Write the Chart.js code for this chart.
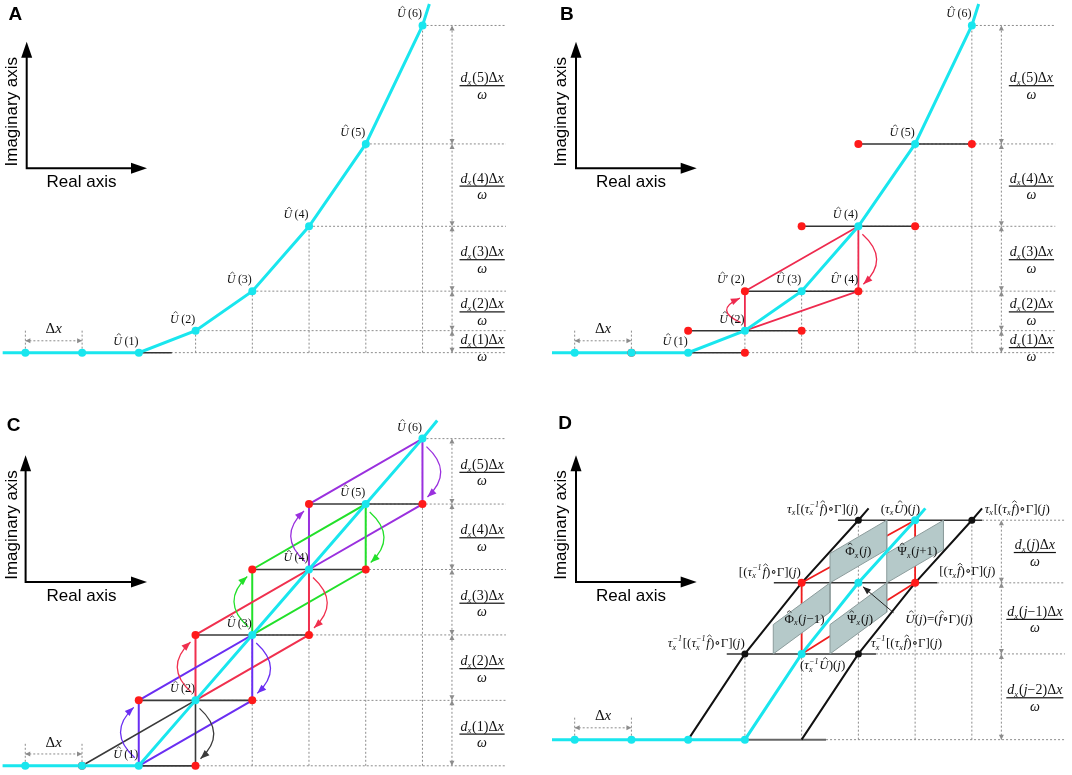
<!DOCTYPE html>
<html>
<head>
<meta charset="utf-8">
<title>Real / imaginary axis construction, panels A-D</title>
<script src="https://cdn.jsdelivr.net/npm/chart.js@4.4.1/dist/chart.umd.min.js"></script>
<style>
  html, body { margin: 0; padding: 0; background: #fff; }
  .panel { position: absolute; }
</style>
</head>
<body>
<div class="panel" style="left:0;top:0;width:536px;height:387px"><canvas id="chartA"></canvas></div>
<div class="panel" style="left:536px;top:0;width:536px;height:387px"><canvas id="chartB"></canvas></div>
<div class="panel" style="left:0;top:387px;width:536px;height:388px"><canvas id="chartC"></canvas></div>
<div class="panel" style="left:536px;top:387px;width:536px;height:388px"><canvas id="chartD"></canvas></div>
<script>
// real part of each sample, counted in steps of dx
const realPos = [0, 1, 2, 3, 4, 5, 6, 7];
// imaginary part of each sample (same unit as dx)
const imagCurve = [0, 0, 0, 0.39, 1.09, 2.24, 3.70, 5.80];   // A and B
const imagLinear = [0, 0, 0, 1.16, 2.32, 3.48, 4.64, 5.80];  // C
const sampleNames = ['', '', '1', '2', '3', '4', '5', '6'];
const stepNames = ['1', '2', '3', '4', '5'];
// the curve keeps going past the first and last sample
const curveEntry = [-0.4, 0];
const curveExitAB = [7.12, 6.18];
const curveExitC = [7.26, 6.12];

// panel D
const realD = [0, 1, 2, 3, 4, 5, 6];
const imagD = [0, 0, 0, 0, 1.52, 2.78, 3.89];
const curveExitD = [6.18, 4.10];
const levelsD = imagD.slice(3);
const stepNamesD = ['j\u22122', 'j\u22121', 'j'];
const railsD = [[3, 4.43], [2.68, 5.31], [3.51, 6.39], [4.64, 7.18]];  // horizontal rails, one per level
const plumbD = [[3, 1], [4, 2], [5, 3], [6, 3], [7, 3]];               // x, level index of dotted drops
const cellsD = [[3.5, 1], [4.5, 1], [4.5, 2], [5.5, 2]];               // left x, lower level of shaded cells
const CELL_H = 0.52;

const UNIT = 57.6;          // pixels per dx
const DIM_X = 7.52;
const DX_TICK = 0.41, DX_BAR = 0.21;
const SERIF = '"Liberation Serif", "Times New Roman", "DejaVu Serif", serif';
const SANS = '"Liberation Sans", Arial, sans-serif';
const CYAN = '#19e6ee', DOT_RED = '#ff1a1a', GRID = '#8c8c8c', INK = '#333333';
const RED_B = '#ee2a4e';
const cellColorsC = ['#3a3a3a', '#6a2ef2', '#f0304e', '#22e02a', '#9a30de'];

const frames = {
  chartA: { ox: 21.7, oy: 356, w: 536, h: 387 },
  chartB: { ox: 35.2, oy: 356, w: 536, h: 387 },
  chartC: { ox: 21.6, oy: 382.7, w: 536, h: 388 },
  chartD: { ox: 35.2, oy: 356, w: 536, h: 388 }
};

function pts(list) { return list.map(([x, y]) => ({ x, y })); }
function segs(list) {
  const out = [];
  list.forEach((s, i) => {
    if (i) out.push({ x: NaN, y: NaN });
    s.forEach(([x, y]) => out.push({ x, y }));
  });
  return out;
}
function samples(xs, ys, from, to) {
  const o = [];
  for (let i = from; i <= to; i++) o.push([xs[i], ys[i]]);
  return o;
}
function shift(list, d) { return list.map(([x, y]) => [x + d, y]); }
function cell(xs, ys, k) {
  return [[xs[k], ys[k]], [xs[k], ys[k + 1]], [xs[k + 2], ys[k + 2]], [xs[k + 2], ys[k + 1]], [xs[k], ys[k]]];
}
function rails(xs, ys) {
  return [1, 2, 3, 4, 5].map(k => [[xs[k], ys[k + 1]], [xs[k + 2], ys[k + 1]]]);
}
function sideDots(xs, ys) {
  const o = [];
  [1, 2, 3, 4, 5].forEach(k => { o.push([xs[k], ys[k + 1]], [xs[k + 2], ys[k + 1]]); });
  return o;
}
function dxMarker(xs) {
  return [[[xs[0], 0], [xs[0], DX_TICK]], [[xs[1], 0], [xs[1], DX_TICK]], [[xs[0], DX_BAR], [xs[1], DX_BAR]]];
}
function gridSegments(xs, ys, xEnd) {
  const s = [];
  for (let k = 3; k < xs.length; k++) {
    s.push([[xs[k], 0], [xs[k], ys[k]]], [[xs[k], ys[k]], [xEnd, ys[k]]]);
  }
  s.push([[xs[2], 0], [xEnd, 0]], [[DIM_X, 0], [DIM_X, ys[ys.length - 1]]]);
  return s.concat(dxMarker(xs));
}

function lineSet(data, color, width, order, dash) {
  return { data, showLine: true, borderColor: color, borderWidth: width, borderDash: dash || [],
           pointRadius: 0, pointHoverRadius: 0, fill: false, order, clip: false };
}
function dotSet(data, color, r, order) {
  return { data, showLine: false, pointRadius: r, pointHoverRadius: r, pointBackgroundColor: color,
           pointBorderColor: color, pointBorderWidth: 0, order, clip: false };
}
function shapeSet(data, fillColor, edgeColor, order) {
  return { data, showLine: true, fill: 'shape', backgroundColor: fillColor, borderColor: edgeColor,
           borderWidth: 1, pointRadius: 0, order };
}

// ---------- text helpers ----------
function R(t, hat) { return { t, hat }; }
function I(t, hat) { return { t, it: true, hat }; }
function SB(t, sup) { return { t, it: true, sub: true, sup }; }
function partFont(ctx, p, size) {
  const s = p.sub ? size * 0.62 : size;
  ctx.font = (p.it ? 'italic ' : '') + s.toFixed(1) + 'px ' + SERIF;
}
function partWidth(ctx, p, size) {
  partFont(ctx, p, size);
  let w = ctx.measureText(p.t).width;
  if (p.sup) w = Math.max(w, ctx.measureText(p.sup).width);
  return w + (p.sub ? size * 0.06 : 0);
}
function drawParts(ctx, parts, x, y, size, align) {
  let total = 0;
  parts.forEach(p => { total += partWidth(ctx, p, size); });
  let cx = align === 'left' ? x : x - total / 2;
  ctx.textAlign = 'left';
  ctx.textBaseline = 'alphabetic';
  parts.forEach(p => {
    const w = partWidth(ctx, p, size);
    partFont(ctx, p, size);
    if (p.sub) {
      ctx.fillText(p.t, cx, y + size * 0.2);
      if (p.sup) ctx.fillText(p.sup, cx, y - size * 0.42);
    } else {
      ctx.fillText(p.t, cx, y);
    }
    if (p.hat) {
      const mx = cx + w / 2 + (p.it ? size * 0.1 : 0);
      const hb = y - size * 0.78, ht = y - size * 0.92, hw = size * 0.17;
      ctx.beginPath();
      ctx.moveTo(mx - hw, hb); ctx.lineTo(mx, ht); ctx.lineTo(mx + hw, hb);
      ctx.lineWidth = size * 0.06;
      ctx.strokeStyle = ctx.fillStyle;
      ctx.stroke();
    }
    cx += w;
  });
  return total;
}
function head(ctx, x, y, ang, len, half, color) {
  const bx = x - len * Math.cos(ang), by = y - len * Math.sin(ang);
  const nx = -Math.sin(ang) * half, ny = Math.cos(ang) * half;
  ctx.fillStyle = color;
  ctx.beginPath();
  ctx.moveTo(x, y); ctx.lineTo(bx + nx, by + ny); ctx.lineTo(bx - nx, by - ny);
  ctx.closePath();
  ctx.fill();
}
function curvedArrow(ctx, x0, y0, x1, y1, side, color) {
  const dir = Math.sign(y1 - y0) || 1;
  const sx = x0 + side * 4, sy = y0 + dir * 8;
  const ex = x1 + side * 5, ey = y1 - dir * 7;
  const cx = x0 + side * 32, cy = (sy + ey) / 2;
  ctx.strokeStyle = color;
  ctx.lineWidth = 1.3;
  ctx.beginPath();
  ctx.moveTo(sx, sy);
  ctx.quadraticCurveTo(cx, cy, ex, ey);
  ctx.stroke();
  head(ctx, ex, ey, Math.atan2(ey - cy, ex - cx), 9, 3.5, color);
}
function drawIcon(ctx, ic) {
  ctx.strokeStyle = '#000';
  ctx.lineWidth = 2;
  ctx.beginPath();
  ctx.moveTo(ic.x, ic.top + 10); ctx.lineTo(ic.x, ic.bottom); ctx.lineTo(ic.right - 10, ic.bottom);
  ctx.stroke();
  head(ctx, ic.x, ic.top, -Math.PI / 2, 16, 5.5, '#000');
  head(ctx, ic.right, ic.bottom, 0, 16, 5.5, '#000');
  ctx.fillStyle = '#000';
  ctx.font = '17px ' + SANS;
  ctx.textAlign = 'center';
  ctx.textBaseline = 'middle';
  ctx.save();
  ctx.translate(ic.imag[0], ic.imag[1]);
  ctx.rotate(-Math.PI / 2);
  ctx.fillText('Imaginary axis', 0, 0);
  ctx.restore();
  ctx.fillText('Real axis', ic.real[0], ic.real[1]);
}

function hatU(name, prime) {
  return [I('U', 1)].concat(prime ? [R('\u2032')] : [], [R('\u2009(' + name + ')')]);
}
function sampleLabels(xs, ys) {
  const o = [];
  for (let k = 2; k < xs.length; k++) o.push({ at: [xs[k], ys[k]], off: [-13, -12], parts: hatU(sampleNames[k]), size: 12 });
  o.push({ at: [(xs[0] + xs[1]) / 2, DX_TICK + 0.02], parts: [R('\u0394'), I('x')], size: 15 });
  return o;
}
function sideArrows(xs, ys, ks, colors) {
  const o = [];
  ks.forEach((k, i) => {
    if (k > 1) o.push({ from: [xs[k], ys[k]], to: [xs[k], ys[k + 1]], side: -1, color: colors[i] });
    o.push({ from: [xs[k + 2], ys[k + 2]], to: [xs[k + 2], ys[k + 1]], side: 1, color: colors[i] });
  });
  return o;
}

const labelsD = [
  { at: [4.37, 4.10], parts: [I('\u03c4'), SB('x'), R('[('), I('\u03c4'), SB('x', '\u22121'), I('f', 1), R(')\u2218\u0393]('), I('j'), R(')')] },
  { at: [5.74, 4.10], parts: [R('('), I('\u03c4'), SB('x'), I('U', 1), R(')('), I('j'), R(')')] },
  { at: [7.80, 4.10], parts: [I('\u03c4'), SB('x'), R('[('), I('\u03c4'), SB('x'), I('f', 1), R(')\u2218\u0393]('), I('j'), R(')')] },
  { at: [3.44, 2.98], parts: [R('[('), I('\u03c4'), SB('x', '\u22121'), I('f', 1), R(')\u2218\u0393]('), I('j'), R(')')] },
  { at: [6.92, 2.99], parts: [R('[('), I('\u03c4'), SB('x'), I('f', 1), R(')\u2218\u0393]('), I('j'), R(')')] },
  { at: [5.00, 3.35], parts: [R('\u03a6', 1), SB('x'), R('('), I('j'), R(')')] },
  { at: [6.04, 3.35], parts: [R('\u03a8', 1), SB('x'), R('('), I('j'), R('+1)')] },
  { at: [4.05, 2.15], parts: [R('\u03a6', 1), SB('x'), R('('), I('j'), R('\u22121)')] },
  { at: [5.03, 2.15], parts: [R('\u03a8', 1), SB('x'), R('('), I('j'), R(')')] },
  { at: [6.42, 2.15], parts: [I('U', 1), R('('), I('j'), R(')=('), I('f', 1), R('\u2218\u0393)('), I('j'), R(')')] },
  { at: [2.32, 1.72], parts: [I('\u03c4'), SB('x', '\u22121'), R('[('), I('\u03c4'), SB('x', '\u22121'), I('f', 1), R(')\u2218\u0393]('), I('j'), R(')')] },
  { at: [5.85, 1.72], parts: [I('\u03c4'), SB('x', '\u22121'), R('[('), I('\u03c4'), SB('x'), I('f', 1), R(')\u2218\u0393]('), I('j'), R(')')] },
  { at: [4.37, 1.32], parts: [R('('), I('\u03c4'), SB('x', '\u22121'), I('U', 1), R(')('), I('j'), R(')')] }
].map(l => Object.assign({ size: 13 }, l));
labelsD.push({ at: [0.5, DX_TICK + 0.02], parts: [R('\u0394'), I('x')], size: 15 });

const notes = {
  chartA: {
    letter: 'A', letterAt: [15.4, 15],
    icon: { x: 26.7, top: 41.7, bottom: 168.3, right: 147, imag: [12, 111.7], real: [81.5, 182.7] },
    levels: imagCurve.slice(2), fracNames: stepNames, fracX: 8.05,
    labels: sampleLabels(realPos, imagCurve), arrows: []
  },
  chartB: {
    letter: 'B', letterAt: [30.8, 15],
    icon: { x: 40, top: 41.7, bottom: 168.3, right: 160.7, imag: [25.6, 111.7], real: [95, 182.7] },
    levels: imagCurve.slice(2), fracNames: stepNames, fracX: 8.05,
    labels: sampleLabels(realPos, imagCurve).concat([
      { at: [realPos[3], imagCurve[4]], off: [-14, -12], parts: hatU('2', true), size: 12 },
      { at: [realPos[5], imagCurve[4]], off: [-14, -12], parts: hatU('4', true), size: 12 }
    ]),
    arrows: sideArrows(realPos, imagCurve, [3], [RED_B])
  },
  chartC: {
    letter: 'C', letterAt: [13.7, 38.3],
    icon: { x: 25.6, top: 68.3, bottom: 195, right: 147, imag: [12, 138], real: [81.5, 209.3] },
    levels: imagLinear.slice(2), fracNames: stepNames, fracX: 8.05,
    labels: sampleLabels(realPos, imagLinear),
    arrows: sideArrows(realPos, imagLinear, [1, 2, 3, 4, 5], cellColorsC)
  },
  chartD: {
    letter: 'D', letterAt: [29, 37],
    icon: { x: 40, top: 68.3, bottom: 195, right: 160.7, imag: [25.6, 138], real: [95, 209.3] },
    levels: levelsD, fracNames: stepNamesD, fracX: 8.11,
    labels: labelsD, arrows: [],
    pointer: { from: [5.62, 2.25], to: [realD[5], imagD[5]] }
  }
};

const annotate = {
  id: 'annotate',
  afterDatasetsDraw(chart) {
    const n = notes[chart.canvas.id];
    if (!n) return;
    const ctx = chart.ctx;
    const X = v => chart.scales.x.getPixelForValue(v);
    const Y = v => chart.scales.y.getPixelForValue(v);
    ctx.save();
    n.arrows.forEach(a => curvedArrow(ctx, X(a.from[0]), Y(a.from[1]), X(a.to[0]), Y(a.to[1]), a.side, a.color));

    // dx marker heads
    head(ctx, X(0), Y(DX_BAR), Math.PI, 5, 2.5, GRID);
    head(ctx, X(1), Y(DX_BAR), 0, 5, 2.5, GRID);

    // dimension heads + fractions on the right
    for (let i = 0; i + 1 < n.levels.length; i++) {
      const yLo = Y(n.levels[i]), yHi = Y(n.levels[i + 1]);
      head(ctx, X(DIM_X), yHi, -Math.PI / 2, 5, 2.5, GRID);
      head(ctx, X(DIM_X), yLo, Math.PI / 2, 5, 2.5, GRID);
      const barY = (yLo - yHi) < 30 ? yLo - 5 : (yLo + yHi) / 2 + 1;
      const cx = X(n.fracX);
      const name = n.fracNames[i];
      const num = [I('d'), SB('x'), R('(')].concat(
        name.length > 1 ? [I('j'), R(name.slice(1) + ')')] : (name === 'j' ? [I('j'), R(')')] : [R(name + ')')]),
        [R('\u0394'), I('x')]);
      ctx.fillStyle = '#111';
      const w = drawParts(ctx, num, cx, barY - 3.5, 14, 'center');
      ctx.fillStyle = '#111';
      ctx.fillRect(cx - w / 2 - 1, barY - 0.6, w + 2, 1.2);
      drawParts(ctx, [I('\u03c9')], cx, barY + 13, 14, 'center');
    }

    // math labels
    n.labels.forEach(l => {
      const off = l.off || [0, 0];
      ctx.fillStyle = '#111';
      drawParts(ctx, l.parts, X(l.at[0]) + off[0], Y(l.at[1]) + off[1] + l.size * 0.33, l.size, 'center');
    });

    if (n.pointer) {
      const x0 = X(n.pointer.from[0]), y0 = Y(n.pointer.from[1]);
      let x1 = X(n.pointer.to[0]), y1 = Y(n.pointer.to[1]);
      const ang = Math.atan2(y1 - y0, x1 - x0);
      x1 -= 6 * Math.cos(ang); y1 -= 6 * Math.sin(ang);
      ctx.strokeStyle = '#222';
      ctx.lineWidth = 1;
      ctx.beginPath(); ctx.moveTo(x0, y0); ctx.lineTo(x1, y1); ctx.stroke();
      head(ctx, x1, y1, ang, 8, 3, '#222');
    }

    drawIcon(ctx, n.icon);
    ctx.fillStyle = '#000';
    ctx.font = 'bold 19px ' + SANS;
    ctx.textAlign = 'center';
    ctx.textBaseline = 'middle';
    ctx.fillText(n.letter, n.letterAt[0], n.letterAt[1]);
    ctx.restore();
  }
};

function makeChart(id, datasets) {
  const f = frames[id];
  return new Chart(document.getElementById(id), {
    type: 'line',
    data: { datasets },
    options: {
      responsive: true,
      maintainAspectRatio: false,
      animation: false,
      events: [],
      layout: { padding: 0 },
      scales: {
        x: { type: 'linear', display: false, min: -f.ox / UNIT, max: (f.w - f.ox) / UNIT },
        y: { type: 'linear', display: false, min: -(f.h - f.oy) / UNIT, max: f.oy / UNIT }
      },
      plugins: { legend: { display: false }, tooltip: { enabled: false } }
    },
    plugins: [annotate]
  });
}

// ---------- A ----------
makeChart('chartA', [
  lineSet(segs(gridSegments(realPos, imagCurve, 8.47)), GRID, 1, 9, [2, 2]),
  lineSet(pts([[realPos[2], 0], [2.58, 0]]), INK, 1.5, 6),
  lineSet(pts([curveEntry].concat(samples(realPos, imagCurve, 0, 7), [curveExitAB])), CYAN, 3, 3),
  dotSet(pts(samples(realPos, imagCurve, 0, 7)), CYAN, 4, 0)
]);

// ---------- B ----------
makeChart('chartB', [
  lineSet(segs(gridSegments(realPos, imagCurve, 8.47)), GRID, 1, 9, [2, 2]),
  lineSet(segs(rails(realPos, imagCurve)), INK, 1.5, 6),
  lineSet(pts(cell(realPos, imagCurve, 3)), RED_B, 1.8, 5),
  lineSet(pts([curveEntry].concat(samples(realPos, imagCurve, 0, 7), [curveExitAB])), CYAN, 3, 3),
  dotSet(pts(sideDots(realPos, imagCurve)), DOT_RED, 4, 1),
  dotSet(pts(samples(realPos, imagCurve, 0, 7)), CYAN, 4, 0)
]);

// ---------- C ----------
makeChart('chartC', [
  lineSet(segs(gridSegments(realPos, imagLinear, 8.47)), GRID, 1, 9, [2, 2]),
  lineSet(segs(rails(realPos, imagLinear)), '#3a3a3a', 1.6, 7)
].concat(
  [1, 2, 3, 4, 5].map((k, i) => lineSet(pts(cell(realPos, imagLinear, k)), cellColorsC[i], i ? 2 : 1.6, 5)),
  [
    lineSet(pts([curveEntry].concat(samples(realPos, imagLinear, 0, 7), [curveExitC])), CYAN, 3, 3),
    dotSet(pts(sideDots(realPos, imagLinear)), DOT_RED, 4, 1),
    dotSet(pts(samples(realPos, imagLinear, 0, 7)), CYAN, 4, 0)
  ]
));

// ---------- D ----------
const gridD = [];
plumbD.forEach(([x, li]) => gridD.push([[x, 0], [x, levelsD[li]]]));
railsD.forEach(([, x1], li) => gridD.push([[x1, levelsD[li]], [8.64, levelsD[li]]]));
gridD.push([[DIM_X, 0], [DIM_X, levelsD[3]]]);
const cyanD = samples(realD, imagD, 3, 6).concat([curveExitD]);
makeChart('chartD', [
  lineSet(segs(gridD.concat(dxMarker(realD))), GRID, 1, 9, [2, 2]),
  lineSet(pts(railsD[0].map(x => [x, 0])), '#666', 2, 8),
  lineSet(segs(railsD.slice(1).map(([a, b], i) => [[a, levelsD[i + 1]], [b, levelsD[i + 1]]])), INK, 1.5, 7),
  lineSet(segs([shift(cyanD, -1), shift(cyanD, 1)]), '#111', 2, 6),
  lineSet(pts(cell(realD, imagD, 4)), '#f01d1d', 1.8, 5),
  shapeSet(segs(cellsD.map(([x0, li]) => [[x0, levelsD[li]], [x0, levelsD[li] + CELL_H], [x0 + 1, levelsD[li + 1]],
                                          [x0 + 1, levelsD[li + 1] - CELL_H], [x0, levelsD[li]]])), '#b5c9c9', '#8c9c9c', 4),
  lineSet(pts([curveEntry].concat(samples(realD, imagD, 0, 6), [curveExitD])), CYAN, 3, 3),
  dotSet(pts([[3, levelsD[1]], [5, levelsD[1]], [5, levelsD[3]], [7, levelsD[3]]]), '#111', 3.5, 1),
  dotSet(pts([[4, levelsD[2]], [6, levelsD[2]]]), DOT_RED, 4, 1),
  dotSet(pts(samples(realD, imagD, 0, 6)), CYAN, 4, 0)
]);
</script>
</body>
</html>
